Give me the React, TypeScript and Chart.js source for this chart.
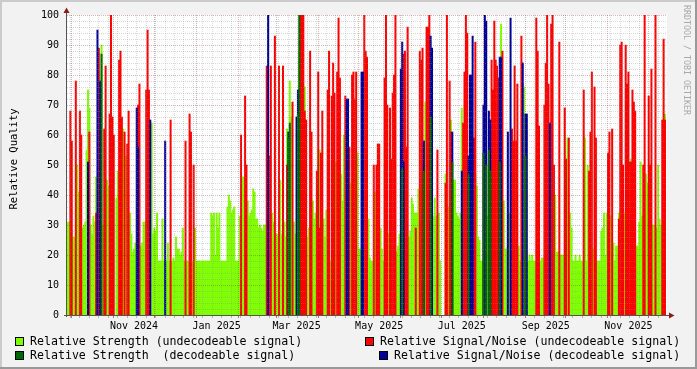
import React, { useEffect, useRef } from 'react';
import { Chart, registerables } from 'chart.js';

Chart.register(...registerables);

// ---------------- DATA ----------------
const START = Date.UTC(2024, 8, 28);
const DAY_MS = 86400000;
const DAY_COUNT = 443;
const dayLabels: string[] = Array.from({ length: DAY_COUNT }, (_, i) =>
  new Date(START + i * DAY_MS).toISOString().slice(0, 10)
);

const axisLabels = ['Nov 2024', 'Jan 2025', 'Mar 2025', 'May 2025', 'Jul 2025', 'Sep 2025', 'Nov 2025'];
const axisLabelDays = ['2024-11-16', '2025-01-16', '2025-03-16', '2025-05-16', '2025-07-16', '2025-09-16', '2025-11-16'];
const yTicks = [0, 10, 20, 30, 40, 50, 60, 70, 80, 90, 100];

// Relative Strength (undecodeable signal), one value per day (0 = no value)
const strengthUndecodeable = [
  31, 31, 0, 0, 26, 26, 0, 50, 41, 0,
  0, 29, 30, 31, 55, 75, 69, 30, 27, 33,
  31, 46, 0, 0, 77, 90, 30, 0, 0, 45,
  43, 0, 0, 0, 0, 0, 39, 48, 0, 62,
  0, 62, 0, 53, 0, 0, 34, 27, 21, 22,
  24, 0, 0, 0, 23, 24, 31, 31, 0, 0,
  0, 0, 64, 27, 29, 28, 34, 18, 18, 18,
  32, 18, 0, 18, 24, 18, 0, 18, 19, 18,
  26, 22, 22, 20, 21, 29, 18, 0, 18, 18,
  0, 0, 18, 0, 29, 18, 18, 18, 18, 18,
  18, 18, 18, 18, 18, 18, 34, 33, 34, 20,
  34, 29, 34, 18, 18, 18, 18, 18, 36, 40,
  38, 34, 35, 36, 18, 18, 18, 33, 0, 46,
  46, 0, 0, 38, 33, 34, 35, 42, 41, 32,
  32, 29, 30, 29, 28, 30, 30, 0, 0, 0,
  0, 34, 31, 0, 27, 27, 0, 45, 27, 0,
  31, 26, 62, 0, 78, 66, 0, 31, 27, 0,
  0, 88, 0, 0, 0, 76, 0, 26, 29, 0,
  0, 38, 32, 34, 0, 0, 55, 0, 0, 32,
  26, 35, 0, 0, 18, 0, 0, 0, 51, 0,
  0, 45, 47, 38, 60, 0, 0, 0, 0, 44,
  0, 0, 0, 54, 54, 22, 22, 0, 0, 0,
  0, 0, 32, 19, 18, 18, 0, 41, 0, 0,
  0, 29, 22, 18, 0, 0, 0, 27, 0, 0,
  0, 0, 0, 21, 23, 27, 0, 0, 0, 0,
  0, 0, 26, 28, 39, 37, 34, 34, 34, 42,
  0, 0, 0, 0, 71, 0, 0, 0, 0, 0,
  33, 39, 33, 0, 34, 18, 0, 0, 0, 47,
  0, 36, 0, 65, 0, 45, 45, 34, 33, 32,
  34, 69, 47, 0, 0, 0, 0, 0, 0, 0,
  0, 47, 43, 26, 25, 18, 18, 0, 0, 0,
  33, 0, 0, 0, 0, 0, 0, 0, 0, 0,
  97, 0, 38, 22, 22, 0, 34, 0, 0, 0,
  0, 0, 0, 23, 18, 0, 0, 76, 0, 0,
  18, 20, 18, 20, 18, 18, 0, 0, 0, 18,
  19, 19, 0, 0, 0, 0, 0, 0, 0, 0,
  40, 21, 21, 0, 20, 20, 20, 0, 0, 59,
  0, 34, 29, 18, 18, 20, 18, 18, 20, 18,
  18, 0, 59, 18, 50, 0, 0, 0, 22, 0,
  0, 18, 18, 18, 28, 29, 34, 20, 34, 0,
  0, 33, 0, 24, 18, 23, 23, 34, 0, 0,
  0, 34, 0, 0, 0, 0, 52, 0, 0, 0,
  23, 23, 31, 51, 33, 0, 0, 47, 44, 0,
  0, 0, 30, 30, 0, 29, 50, 32, 30, 0,
  0, 67, 0,
];

// Relative Signal/Noise (undecodeable signal), one value per day (0 = no value)
const snrUndecodeable = [
  0, 0, 68, 58, 0, 0, 78, 0, 0, 68,
  60, 0, 0, 0, 0, 0, 61, 0, 0, 0,
  0, 34, 0, 89, 0, 0, 0, 62, 83, 0,
  0, 67, 100, 66, 60, 0, 0, 0, 85, 88,
  66, 0, 61, 0, 57, 68, 0, 0, 0, 0,
  0, 0, 70, 77, 0, 0, 0, 0, 75, 95,
  75, 0, 0, 0, 0, 0, 0, 0, 0, 0,
  0, 0, 0, 0, 0, 0, 65, 0, 0, 0,
  0, 0, 0, 0, 0, 0, 0, 58, 0, 0,
  67, 61, 0, 50, 0, 0, 0, 0, 0, 0,
  0, 0, 0, 0, 0, 0, 0, 0, 0, 0,
  0, 0, 0, 0, 0, 0, 0, 0, 0, 0,
  0, 0, 0, 0, 0, 0, 0, 0, 60, 0,
  0, 73, 50, 0, 0, 0, 0, 0, 0, 0,
  0, 0, 0, 0, 0, 0, 0, 83, 0, 53,
  83, 0, 0, 93, 0, 0, 83, 0, 0, 83,
  0, 0, 50, 0, 0, 0, 71, 0, 0, 0,
  0, 0, 100, 100, 100, 68, 65, 0, 0, 88,
  61, 0, 0, 0, 48, 81, 29, 54, 68, 0,
  0, 0, 75, 88, 0, 73, 84, 74, 0, 81,
  99, 79, 0, 0, 0, 73, 0, 0, 56, 0,
  80, 81, 72, 81, 0, 0, 0, 0, 0, 100,
  88, 86, 0, 0, 0, 0, 50, 0, 50, 57,
  57, 0, 0, 0, 79, 100, 70, 0, 69, 52,
  74, 80, 100, 0, 0, 0, 0, 0, 87, 88,
  56, 96, 0, 0, 0, 0, 0, 29, 0, 0,
  88, 85, 89, 0, 0, 96, 96, 100, 0, 0,
  0, 0, 0, 55, 0, 0, 0, 0, 0, 44,
  100, 0, 78, 61, 0, 0, 0, 0, 0, 0,
  0, 0, 64, 81, 100, 94, 0, 0, 0, 0,
  59, 91, 0, 0, 0, 0, 0, 0, 0, 0,
  0, 0, 0, 85, 75, 98, 85, 83, 79, 0,
  0, 88, 0, 0, 0, 0, 0, 0, 62, 58,
  83, 58, 77, 0, 0, 93, 0, 0, 0, 0,
  0, 0, 0, 0, 0, 0, 99, 88, 63, 0,
  0, 0, 70, 84, 100, 77, 0, 97, 100, 50,
  0, 0, 0, 91, 0, 0, 0, 69, 52, 0,
  59, 0, 0, 0, 0, 0, 0, 0, 0, 0,
  0, 75, 0, 0, 0, 48, 61, 81, 0, 76,
  59, 0, 0, 0, 0, 0, 0, 0, 0, 54,
  61, 0, 62, 0, 0, 0, 0, 32, 90, 91,
  50, 0, 90, 77, 81, 51, 51, 75, 71, 68,
  0, 0, 0, 0, 0, 50, 100, 0, 0, 73,
  50, 82, 0, 0, 100, 0, 0, 0, 0, 65,
  92, 65, 0,
];

// Decodeable signal days: [day index, value]
const snrDecodeable: [number, number][] = [
  [15, 51], [22, 95], [24, 78], [51, 69], [52, 56], [61, 65], [72, 58],
  [148, 100], [163, 61], [169, 66], [170, 75], [206, 72], [207, 72], [217, 81], [218, 81],
  [246, 82], [247, 91], [248, 51], [263, 58], [268, 93], [269, 89], [284, 61],
  [291, 48], [296, 53], [297, 80], [298, 80], [299, 93], [307, 70], [308, 100], [309, 98],
  [311, 68], [312, 65], [319, 86], [320, 86], [325, 61], [327, 99], [336, 84], [338, 67],
  [339, 67], [356, 64],
];
const strengthDecodeable: [number, number][] = [
  [25, 87], [163, 59], [164, 64], [170, 67], [171, 100], [247, 49], [263, 48], [268, 66],
  [284, 51], [296, 47], [307, 54], [309, 50], [311, 55], [312, 48], [319, 51], [338, 53],
];

// ---------------- STYLE ----------------
const C_GREEN = '#80ff00';
const C_RED = '#ff0000';
const C_DKGREEN = '#006600';
const C_BLUE = '#000099';
const MONO = '"DejaVu Sans Mono"';

const toSeries = (arr: number[]) => arr.map((v) => (v ? v : null));
const fromPairs = (pairs: [number, number][]) => {
  const out: (number | null)[] = new Array(DAY_COUNT).fill(null);
  pairs.forEach(([d, v]) => { out[d] = v; });
  return out;
};

const labelByIndex: Record<number, string> = {};
axisLabelDays.forEach((d, k) => {
  const idx = dayLabels.indexOf(d);
  if (idx >= 0) labelByIndex[idx] = axisLabels[k];
});

const legendItems = [
  { text: 'Relative Strength (undecodeable signal)', color: C_GREEN, sx: 15, tx: 30, row: 0 },
  { text: 'Relative Signal/Noise (undecodeable signal)', color: C_RED, sx: 365, tx: 380, row: 0 },
  { text: 'Relative Strength  (decodeable signal)', color: C_DKGREEN, sx: 15, tx: 30, row: 1 },
  { text: 'Relative Signal/Noise (decodeable signal)', color: C_BLUE, sx: 379, tx: 394, row: 1 },
];

const rrdPlugin = {
  id: 'rrdLook',
  beforeDraw(chart: any) {
    const { ctx, width, height, chartArea: a } = chart;
    ctx.save();
    ctx.fillStyle = '#f2f2f2';
    ctx.fillRect(0, 0, width, height);
    ctx.fillStyle = '#cbcbcb';
    ctx.fillRect(0, 0, width, 2);
    ctx.fillRect(0, 0, 2, height);
    ctx.fillStyle = '#999999';
    ctx.fillRect(0, height - 2, width, 2);
    ctx.fillRect(width - 2, 0, 2, height);
    ctx.fillStyle = '#ffffff';
    ctx.fillRect(a.left, a.top, a.right - a.left, a.bottom - a.top);
    ctx.restore();
  },
  afterDatasetsDraw(chart: any) {
    const { ctx, chartArea: a, scales } = chart;
    const xs = scales.x;
    const ys = scales.y;
    const half = (xs.getPixelForValue(1) - xs.getPixelForValue(0)) / 2;
    const minorX: number[] = [];
    const majorX: number[] = [];
    for (let i = 0; i < DAY_COUNT; i++) {
      const d = new Date(START + i * DAY_MS);
      const x = Math.round(xs.getPixelForValue(i) - half) + 0.5;
      if (d.getUTCDate() === 1) majorX.push(x);
      else if (d.getUTCDay() === 1) minorX.push(x);
    }
    ctx.save();
    ctx.lineWidth = 1;
    ctx.setLineDash([1, 1]);
    // minor grid
    ctx.strokeStyle = 'rgba(140,140,140,0.32)';
    ctx.beginPath();
    for (let v = 2; v < 100; v += 2) {
      if (v % 10 === 0) continue;
      const y = Math.round(ys.getPixelForValue(v)) + 0.5;
      ctx.moveTo(a.left, y);
      ctx.lineTo(a.right, y);
    }
    minorX.forEach((x) => { ctx.moveTo(x, a.top); ctx.lineTo(x, a.bottom); });
    ctx.stroke();
    // major grid
    ctx.strokeStyle = 'rgba(130,30,30,0.32)';
    ctx.beginPath();
    yTicks.forEach((v) => {
      if (v === 0) return;
      const y = Math.round(ys.getPixelForValue(v)) + 0.5;
      ctx.moveTo(a.left, y);
      ctx.lineTo(a.right, y);
    });
    majorX.forEach((x) => { ctx.moveTo(x, a.top); ctx.lineTo(x, a.bottom); });
    ctx.stroke();
    ctx.setLineDash([]);
    // tick marks below x axis
    ctx.strokeStyle = 'rgba(140,140,140,0.6)';
    ctx.beginPath();
    minorX.forEach((x) => { ctx.moveTo(x, a.bottom + 1); ctx.lineTo(x, a.bottom + 3); });
    ctx.stroke();
    ctx.strokeStyle = 'rgba(130,30,30,0.6)';
    ctx.beginPath();
    majorX.forEach((x) => { ctx.moveTo(x, a.bottom + 1); ctx.lineTo(x, a.bottom + 3); });
    ctx.stroke();
    // axes
    ctx.strokeStyle = '#555555';
    ctx.beginPath();
    ctx.moveTo(a.left - 0.5, a.bottom + 2);
    ctx.lineTo(a.left - 0.5, a.top - 3);
    ctx.moveTo(a.left - 3, a.bottom + 0.5);
    ctx.lineTo(a.right + 3, a.bottom + 0.5);
    ctx.stroke();
    // arrows
    ctx.fillStyle = '#8b1a1a';
    ctx.beginPath();
    ctx.moveTo(a.left - 3.5, a.top - 2);
    ctx.lineTo(a.left + 2.5, a.top - 2);
    ctx.lineTo(a.left - 0.5, a.top - 7.5);
    ctx.closePath();
    ctx.fill();
    ctx.beginPath();
    ctx.moveTo(a.right + 2, a.bottom - 2.5);
    ctx.lineTo(a.right + 2, a.bottom + 3.5);
    ctx.lineTo(a.right + 7.5, a.bottom + 0.5);
    ctx.closePath();
    ctx.fill();
    ctx.restore();
  },
  afterDraw(chart: any) {
    const { ctx, chartArea: a } = chart;
    ctx.save();
    // y title
    ctx.fillStyle = '#000';
    ctx.font = `10.5px ${MONO}`;
    ctx.textAlign = 'center';
    ctx.textBaseline = 'alphabetic';
    ctx.translate(16.5, 159);
    ctx.rotate(-Math.PI / 2);
    ctx.fillText('Relative Quality', 0, 0);
    ctx.restore();
    // watermark
    ctx.save();
    ctx.fillStyle = '#a8a8a8';
    ctx.font = `8.3px ${MONO}`;
    ctx.textAlign = 'left';
    ctx.textBaseline = 'alphabetic';
    ctx.translate(684, 5);
    ctx.rotate(Math.PI / 2);
    ctx.fillText('RRDTOOL / TOBI OETIKER', 0, 0);
    ctx.restore();
    // legend
    ctx.save();
    ctx.font = `11.6px ${MONO}`;
    ctx.textAlign = 'left';
    ctx.textBaseline = 'alphabetic';
    legendItems.forEach((it) => {
      const top = 337 + it.row * 14;
      ctx.fillStyle = it.color;
      ctx.fillRect(it.sx, top, 9, 9);
      ctx.strokeStyle = '#000';
      ctx.lineWidth = 1;
      ctx.strokeRect(it.sx + 0.5, top + 0.5, 8, 8);
      ctx.fillStyle = '#000';
      ctx.fillText(it.text, it.tx, top + 8);
    });
    ctx.restore();
    void a;
  },
};

export default function App() {
  const ref = useRef<HTMLCanvasElement>(null);
  useEffect(() => {
    const canvas = ref.current;
    if (!canvas) return;
    const chart = new Chart(canvas, {
      type: 'bar',
      data: {
        labels: dayLabels,
        datasets: [
          { label: 'Relative Strength (undecodeable signal)', data: toSeries(strengthUndecodeable), backgroundColor: C_GREEN, order: 4 },
          { label: 'Relative Signal/Noise (undecodeable signal)', data: toSeries(snrUndecodeable), backgroundColor: C_RED, order: 3 },
          { label: 'Relative Signal/Noise (decodeable signal)', data: fromPairs(snrDecodeable), backgroundColor: C_BLUE, order: 2 },
          { label: 'Relative Strength  (decodeable signal)', data: fromPairs(strengthDecodeable), backgroundColor: C_DKGREEN, order: 1 },
        ],
      },
      options: {
        animation: false,
        responsive: false,
        maintainAspectRatio: false,
        devicePixelRatio: 1,
        layout: { padding: { left: 0, top: 15, right: 30, bottom: 0 } },
        plugins: { legend: { display: false }, tooltip: { enabled: false } },
        datasets: {
          bar: { barPercentage: 1, categoryPercentage: 1, grouped: false, borderWidth: 0 },
        },
        scales: {
          x: {
            type: 'category',
            offset: true,
            grid: { display: false, drawTicks: false },
            border: { display: false },
            ticks: {
              autoSkip: false,
              maxRotation: 0,
              minRotation: 0,
              padding: 5,
              color: '#000',
              font: { family: 'DejaVu Sans Mono', size: 10 },
              callback: (_v: any, i: number) => labelByIndex[i] ?? '',
            },
            afterFit: (s: any) => { s.height = 54; },
          },
          y: {
            min: 0,
            max: 100,
            grid: { display: false, drawTicks: false },
            border: { display: false },
            ticks: {
              stepSize: 10,
              padding: 8,
              color: '#000',
              font: { family: 'DejaVu Sans Mono', size: 10 },
            },
            afterFit: (s: any) => { s.width = 67; },
          },
        },
      } as any,
      plugins: [rrdPlugin],
    });
    return () => chart.destroy();
  }, []);
  return (
    <div style={{ position: 'absolute', left: 0, top: 0, width: 697, height: 369 }}>
      <canvas ref={ref} width={697} height={369} style={{ display: 'block', width: 697, height: 369 }} />
    </div>
  );
}
